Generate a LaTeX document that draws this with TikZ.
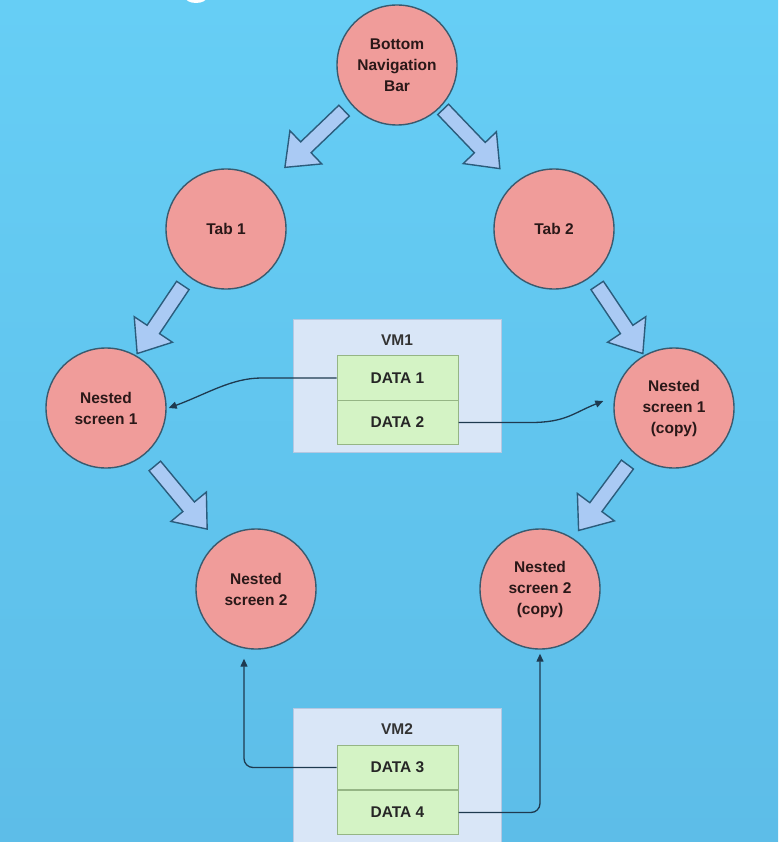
\documentclass[tikz,border=0pt]{standalone}
\usepackage{fontspec}
\setmainfont{Liberation Sans}
\usetikzlibrary{arrows.meta,calc}
\definecolor{bgtop}{HTML}{66CEF5}
\definecolor{bgbot}{HTML}{5DBDE8}
\definecolor{circfill}{HTML}{F09C9A}
\definecolor{circline}{HTML}{3A5A6E}
\definecolor{arrfill}{HTML}{AACAF4}
\definecolor{arrline}{HTML}{2B5C7C}
\definecolor{vmfill}{HTML}{D9E6F7}
\definecolor{vmline}{HTML}{B5C8E2}
\definecolor{cellfill}{HTML}{D4F3C5}
\definecolor{cellline}{HTML}{95B585}
\definecolor{conncol}{HTML}{1E3A50}
\definecolor{txtc}{HTML}{2A1818}
\tikzset{
  circ/.style={circle, draw=circline, line width=1.4pt, fill=circfill,
    minimum size=120pt, inner sep=0pt, align=center, text=txtc,
    font=\fontsize{15.5}{21}\selectfont\bfseries},
  barrowstyle/.style={draw=arrline, line width=1.4pt, fill=arrfill, line join=miter},
  barrowpic/.pic={
    \draw[barrowstyle] (-41,-7.5) -- (12,-7.5) -- (12,-23) -- (41,0) -- (12,23) -- (12,7.5) -- (-41,7.5) -- cycle;
  },
  vmbox/.style={rectangle, draw=vmline, line width=1pt, fill=vmfill,
    minimum width=208pt, inner sep=0pt},
  vmlabel/.style={text=black!80, font=\fontsize{15.5}{19}\selectfont\bfseries},
  cell/.style={rectangle, draw=cellline, line width=1pt, fill=cellfill,
    minimum width=121pt, minimum height=44.5pt, inner sep=0pt, text=black!85,
    font=\fontsize{15.5}{19}\selectfont\bfseries},
  conn/.style={draw=conncol, line width=1.3pt, -{Triangle[length=8pt,width=7pt]}}
}
\begin{document}
\begin{tikzpicture}[x=1pt,y=-1pt]
\useasboundingbox (0,0) rectangle (778,842);
\clip (0,0) rectangle (778,842);
\shade[top color=bgtop, bottom color=bgbot] (0,0) rectangle (778,842);
\fill[white] (196,-3) ellipse [x radius=11, y radius=6];

% circles
\node[circ] (bnb) at (397,65) {Bottom\\Navigation\\Bar};
\node[circ] (t1) at (226,229) {Tab 1};
\node[circ] (t2) at (554,229) {Tab 2};
\node[circ] (n1) at (106,408) {Nested\\screen 1};
\node[circ] (n1c) at (674,408) {Nested\\screen 1\\(copy)};
\node[circ] (n2) at (256,589) {Nested\\screen 2};
\node[circ] (n2c) at (540,589) {Nested\\screen 2\\(copy)};

% block arrows
\foreach \a/\b/\dx/\dy in {bnb/t1/3/-8, bnb/t2/-4/-8, t1/n1/-6/1, t2/n1c/6/1, n1/n2/0/-1, n1c/n2c/-4/-1} {
  \path let \p1=($(\b)-(\a)$), \n1={atan2(\y1,\x1)} in
    pic[rotate=\n1] at ($($(\a)!0.5!(\b)$)+(\dx,\dy)$) {barrowpic};
}

% VM1
\node[vmbox, minimum height=133pt] (vm1) at (397,385.5) {};
\node[vmlabel] (vm1l) at (397,340) {VM1};
\node[cell] (d1) at (397.5,378) {DATA 1};
\node[cell] (d2) at (397.5,422.5) {DATA 2};

% VM2
\node[vmbox, minimum height=150pt] (vm2) at (397,783) {};
\node[vmlabel] (vm2l) at (397,729) {VM2};
\node[cell] (d3) at (397.5,767.5) {DATA 3};
\node[cell] (d4) at (397.5,812.5) {DATA 4};

% connectors
\coordinate (d1k) at ($(d1.west)+(-75,0)$);
\draw[conn] (d1.west) -- (d1k) .. controls ($(d1k)+(-30,0)$) and ($(n1.east)+(40,-14)$) .. ([xshift=2pt]n1.east);
\coordinate (d2k) at ($(d2.east)+(72,0)$);
\coordinate (n1ct) at ([xshift=-10pt,yshift=7pt]n1c.west);
\draw[conn] (d2.east) -- (d2k) .. controls ($(d2k)+(35,0)$) and ($(n1ct)+(-30,12)$) .. (n1ct);
\draw[conn, rounded corners=9pt] (d3.west) -| ([xshift=-12pt,yshift=-9pt]n2.south);
\draw[conn, rounded corners=9pt] (d4.east) -| ([yshift=-4pt]n2c.south);
\end{tikzpicture}
\end{document}
